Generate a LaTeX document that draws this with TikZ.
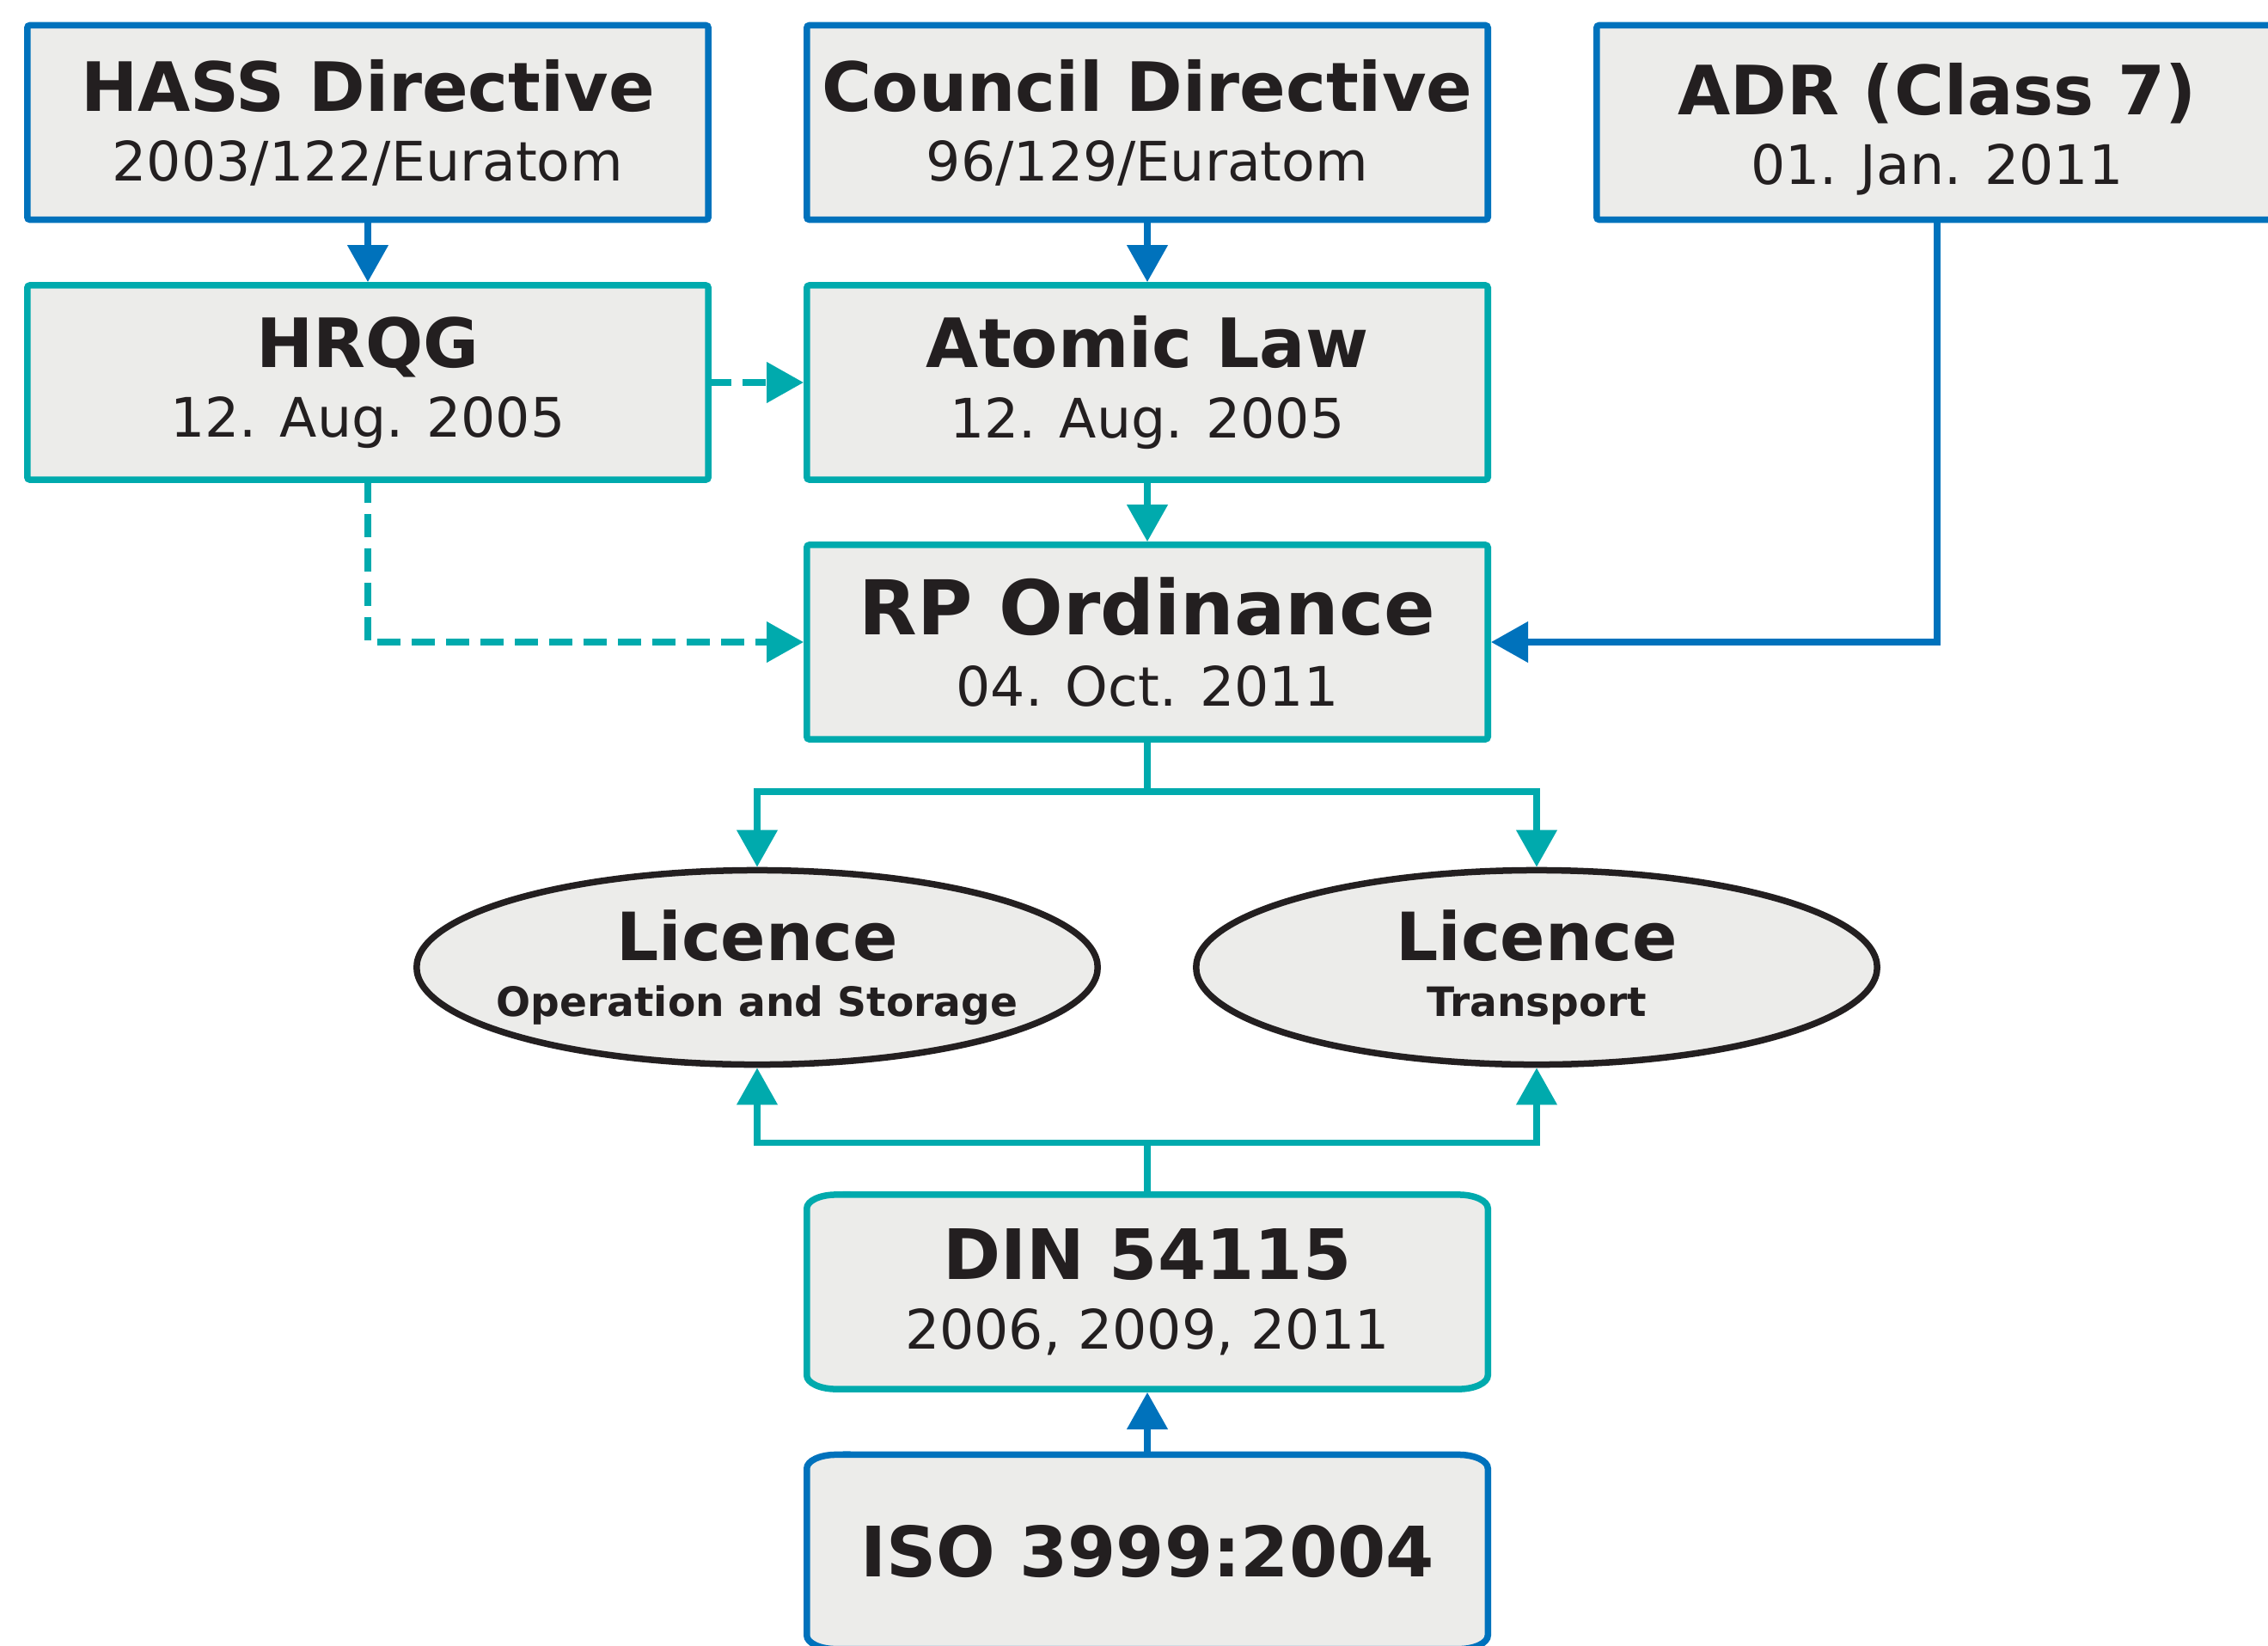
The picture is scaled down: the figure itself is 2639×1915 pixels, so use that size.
\documentclass[tikz,border=0pt]{standalone}
\usepackage{fontspec}
\setmainfont{DejaVu Sans}
\usetikzlibrary{arrows.meta,shapes.geometric,calc,backgrounds}
\definecolor{cblue}{HTML}{0072BC}
\definecolor{cteal}{HTML}{00AAAD}
\definecolor{cfill}{HTML}{ECECEA}
\definecolor{ctext}{HTML}{231F20}
\newcommand\twoline[2]{\bfseries #1\\\fontsize{18}{23.05}\selectfont #2}
\newcommand\ellrect[2]{%
  \path ($(#1.north west)+(3.75,-3.75)$) coordinate (#1-nw)
        ($(#1.south east)+(-3.75,3.75)$) coordinate (#1-se);
  \path[draw=#2, fill=cfill, line width=0.075cm]
    ($(#1-nw)+(34,0)$) -- ($(#1-nw -| #1-se)+(-34,0)$)
    arc[start angle=90,end angle=0,x radius=0.34cm,y radius=0.16cm]
    -- ($(#1-se)+(0,16)$)
    arc[start angle=0,end angle=-90,x radius=0.34cm,y radius=0.16cm]
    -- ($(#1-se -| #1-nw)+(34,0)$)
    arc[start angle=270,end angle=180,x radius=0.34cm,y radius=0.16cm]
    -- ($(#1-nw)+(0,-16)$)
    arc[start angle=180,end angle=90,x radius=0.34cm,y radius=0.16cm]
    -- cycle;}
\begin{document}
\begin{tikzpicture}[x=0.01cm,y=0.01cm,
  lw/.style={line width=0.075cm},
  box/.style={rectangle, lw, fill=cfill, minimum width=7.92cm, minimum height=2.26cm,
    inner sep=0pt, rounded corners=0.03cm, text=ctext, align=center,
    font=\fontsize{22.5}{23.05}\selectfont},
  bluebox/.style={box, draw=cblue},
  tealbox/.style={box, draw=cteal},
  softbox/.style={box, draw=none, fill=none},
  lic/.style={ellipse, lw, draw=ctext, fill=cfill, minimum width=7.92cm, minimum height=2.26cm,
    inner xsep=-0.3cm, inner ysep=0pt, align=center, text=ctext,
    font=\fontsize{22}{18.5}\selectfont\bfseries},
  conn/.style={lw, -{Triangle[length=0.43cm,width=0.46cm]}},
  dconn/.style={conn, cteal, dash pattern=on 0.27cm off 0.13cm, dash phase=0.0375cm}]
\useasboundingbox (0,0) rectangle (2639,-1915);

\node[bluebox] (hass) at (428,-142.5) {\twoline{HASS Directive}{2003/122/Euratom}};
\node[bluebox] (council) at (1335,-142.5) {\twoline{Council Directive}{96/129/Euratom}};
\node[bluebox] (adr) at (2254,-142.5) {\twoline{\rule{0pt}{0.75cm}ADR (Class 7)}{01. Jan. 2011}};
\node[tealbox] (hrqg) at (428,-445) {\twoline{HRQG}{12. Aug. 2005}};
\node[tealbox] (atomic) at (1335,-445) {\twoline{Atomic Law}{12. Aug. 2005}};
\node[tealbox, font=\fontsize{25}{23.8}\selectfont] (rp) at (1335,-747)
  {\bfseries RP Ordinance\\\fontsize{18}{23.8}\selectfont 04. Oct. 2011};
\node[lic] (lic1) at (881,-1125.5) {Licence\\\fontsize{13.4}{18.5}\selectfont Operation and Storage};
\node[lic] (lic2) at (1788,-1125.5) {Licence\\\fontsize{13.4}{18.5}\selectfont Transport};
\node[softbox, font=\fontsize{23}{23.05}\selectfont] (din) at (1335,-1503) {\twoline{DIN 54115}{2006, 2009, 2011}};
\node[softbox, font=\fontsize{23}{23.05}\selectfont] (iso) at (1335,-1805.5) {\bfseries ISO 3999:2004};

\begin{scope}[on background layer]
  \ellrect{din}{cteal}
  \ellrect{iso}{cblue}
\end{scope}

\draw[conn, cblue] (hass.south) -- (hrqg.north);
\draw[conn, cblue] (council.south) -- (atomic.north);
\draw[conn, cteal] (atomic.south) -- (rp.north);
\draw[conn, cblue] (adr.south) |- (rp.east);
\draw[dconn] (hrqg.east) -- (atomic.west);
\draw[dconn] (hrqg.south) |- (rp.west);
\draw[conn, cteal] (rp.south) -- ++(0,-57) -| (lic1.north);
\draw[conn, cteal] (rp.south) -- ++(0,-57) -| (lic2.north);
\draw[conn, cteal] (din.north) -- ++(0,56.5) -| (lic1.south);
\draw[conn, cteal] (din.north) -- ++(0,56.5) -| (lic2.south);
\draw[conn, cblue] (iso.north) -- (din.south);
\end{tikzpicture}
\end{document}
